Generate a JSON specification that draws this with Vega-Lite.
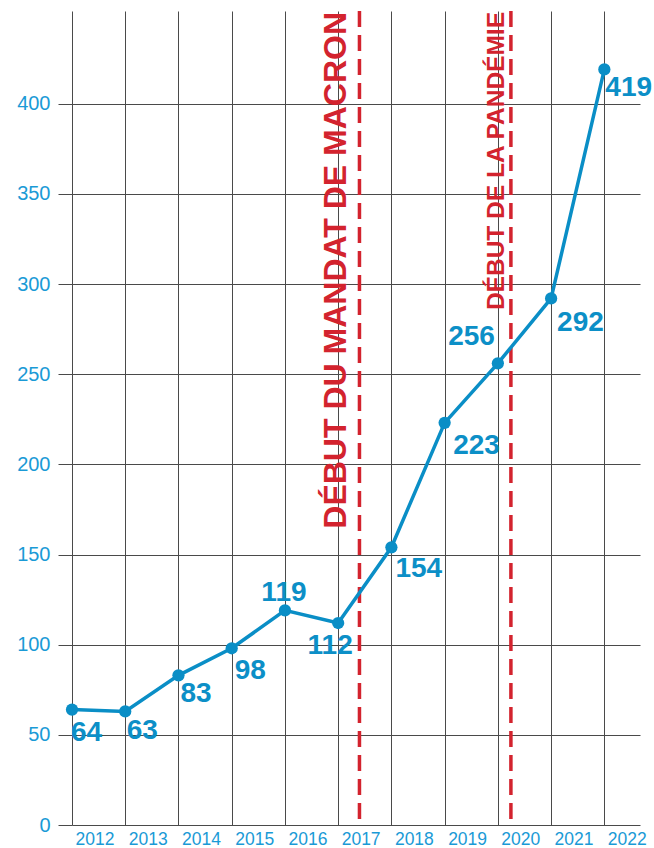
{
  "$schema": "https://vega.github.io/schema/vega-lite/v6.json",
  "width": 568,
  "height": 814,
  "autosize": "none",
  "padding": {"left": 72, "top": 11, "right": 14, "bottom": 23},
  "background": "white",
  "config": {
    "view": {"stroke": null},
    "font": "Liberation Sans",
    "axis": {"gridColor": "#4a4a4a", "gridWidth": 1, "gridOpacity": 1, "tickColor": "#4a4a4a", "tickWidth": 1, "labelColor": "#1a9ad6", "labelFont": "Liberation Sans", "domain": false}
  },
  "datasets": {
    "counts": [
      {"year": 2012, "value": 64},
      {"year": 2013, "value": 63},
      {"year": 2014, "value": 83},
      {"year": 2015, "value": 98},
      {"year": 2016, "value": 119},
      {"year": 2017, "value": 112},
      {"year": 2018, "value": 154},
      {"year": 2019, "value": 223},
      {"year": 2020, "value": 256},
      {"year": 2021, "value": 292},
      {"year": 2022, "value": 419}
    ],
    "events": [
      {"year": 2017.4, "label": "DÉBUT DU MANDAT DE MACRON"},
      {"year": 2020.245, "label": "DÉBUT DE LA PANDÉMIE"}
    ]
  },
  "data": {"name": "counts"},
  "encoding": {
    "x": {
      "field": "year",
      "type": "quantitative",
      "title": null,
      "scale": {"domain": [2012, 2022.67], "nice": false, "zero": false},
      "axis": {
        "values": [2012, 2013, 2014, 2015, 2016, 2017, 2018, 2019, 2020, 2021, 2022],
        "format": "d",
        "grid": true,
        "ticks": false,
        "tickSize": 0,
        "labelAlign": "left",
        "labelOffset": 3,
        "labelPadding": 5,
        "labelFontSize": 17.5,
        "labelFlush": false,
        "labelOverlap": false
      }
    }
  },
  "layer": [
    {
      "mark": {"type": "line", "opacity": 0},
      "encoding": {
        "y": {
          "field": "value",
          "type": "quantitative",
          "title": null,
          "scale": {"domain": [0, 451.4], "nice": false, "zero": true},
          "axis": {
            "values": [0, 50, 100, 150, 200, 250, 300, 350, 400],
            "grid": true,
            "ticks": true,
            "tickSize": 14,
            "labelPadding": 8,
            "labelFontSize": 20,
            "labelBaseline": "middle"
          }
        }
      }
    },
    {
      "data": {"name": "events"},
      "mark": {"type": "rule", "color": "#d3232e", "strokeWidth": 3.5, "strokeDash": [16, 8]},
      "encoding": {}
    },
    {
      "data": {"name": "events"},
      "transform": [{"filter": "datum.year < 2018"}],
      "mark": {"type": "text", "angle": 270, "align": "right", "baseline": "alphabetic", "dx": -1, "dy": -13, "fontSize": 32, "fontWeight": "bold", "color": "#d3232e", "font": "Liberation Sans"},
      "encoding": {"y": {"datum": 451.4, "type": "quantitative"}, "text": {"field": "label"}}
    },
    {
      "data": {"name": "events"},
      "transform": [{"filter": "datum.year > 2018"}],
      "mark": {"type": "text", "angle": 270, "align": "right", "baseline": "alphabetic", "dx": -1, "dy": -7, "fontSize": 24.5, "fontWeight": "bold", "color": "#d3232e", "font": "Liberation Sans"},
      "encoding": {"y": {"datum": 451.4, "type": "quantitative"}, "text": {"field": "label"}}
    },
    {
      "mark": {"type": "line", "color": "#0a8ec6", "strokeWidth": 3.5},
      "encoding": {"y": {"field": "value", "type": "quantitative"}}
    },
    {
      "mark": {"type": "circle", "color": "#0a8ec6", "opacity": 1, "size": 150},
      "encoding": {"y": {"field": "value", "type": "quantitative"}}
    },
    {
      "transform": [{"filter": "datum.year == 2012"}],
      "mark": {"type": "text", "align": "left", "baseline": "alphabetic", "dx": -1, "dy": 31.4, "fontSize": 28, "fontWeight": "bold", "color": "#0c8fc7"},
      "encoding": {"y": {"field": "value", "type": "quantitative"}, "text": {"field": "value"}}
    },
    {
      "transform": [{"filter": "datum.year == 2013"}],
      "mark": {"type": "text", "align": "left", "baseline": "alphabetic", "dx": 1.5, "dy": 27.6, "fontSize": 28, "fontWeight": "bold", "color": "#0c8fc7"},
      "encoding": {"y": {"field": "value", "type": "quantitative"}, "text": {"field": "value"}}
    },
    {
      "transform": [{"filter": "datum.year == 2014"}],
      "mark": {"type": "text", "align": "left", "baseline": "alphabetic", "dx": 2, "dy": 26.4, "fontSize": 28, "fontWeight": "bold", "color": "#0c8fc7"},
      "encoding": {"y": {"field": "value", "type": "quantitative"}, "text": {"field": "value"}}
    },
    {
      "transform": [{"filter": "datum.year == 2015"}],
      "mark": {"type": "text", "align": "left", "baseline": "alphabetic", "dx": 3, "dy": 30.7, "fontSize": 28, "fontWeight": "bold", "color": "#0c8fc7"},
      "encoding": {"y": {"field": "value", "type": "quantitative"}, "text": {"field": "value"}}
    },
    {
      "transform": [{"filter": "datum.year == 2016"}],
      "mark": {"type": "text", "align": "center", "baseline": "alphabetic", "dx": -1, "dy": -9.7, "fontSize": 28, "fontWeight": "bold", "color": "#0c8fc7"},
      "encoding": {"y": {"field": "value", "type": "quantitative"}, "text": {"field": "value"}}
    },
    {
      "transform": [{"filter": "datum.year == 2017"}],
      "mark": {"type": "text", "align": "center", "baseline": "alphabetic", "dx": -8, "dy": 31, "fontSize": 28, "fontWeight": "bold", "color": "#0c8fc7"},
      "encoding": {"y": {"field": "value", "type": "quantitative"}, "text": {"field": "value"}}
    },
    {
      "transform": [{"filter": "datum.year == 2018"}],
      "mark": {"type": "text", "align": "left", "baseline": "alphabetic", "dx": 4, "dy": 29.7, "fontSize": 28, "fontWeight": "bold", "color": "#0c8fc7"},
      "encoding": {"y": {"field": "value", "type": "quantitative"}, "text": {"field": "value"}}
    },
    {
      "transform": [{"filter": "datum.year == 2019"}],
      "mark": {"type": "text", "align": "left", "baseline": "alphabetic", "dx": 8.5, "dy": 31, "fontSize": 28, "fontWeight": "bold", "color": "#0c8fc7"},
      "encoding": {"y": {"field": "value", "type": "quantitative"}, "text": {"field": "value"}}
    },
    {
      "transform": [{"filter": "datum.year == 2020"}],
      "mark": {"type": "text", "align": "right", "baseline": "alphabetic", "dx": -3, "dy": -18.4, "fontSize": 28, "fontWeight": "bold", "color": "#0c8fc7"},
      "encoding": {"y": {"field": "value", "type": "quantitative"}, "text": {"field": "value"}}
    },
    {
      "transform": [{"filter": "datum.year == 2021"}],
      "mark": {"type": "text", "align": "left", "baseline": "alphabetic", "dx": 6, "dy": 32.2, "fontSize": 28, "fontWeight": "bold", "color": "#0c8fc7"},
      "encoding": {"y": {"field": "value", "type": "quantitative"}, "text": {"field": "value"}}
    },
    {
      "transform": [{"filter": "datum.year == 2022"}],
      "mark": {"type": "text", "align": "left", "baseline": "alphabetic", "dx": 1, "dy": 26.5, "fontSize": 28, "fontWeight": "bold", "color": "#0c8fc7"},
      "encoding": {"y": {"field": "value", "type": "quantitative"}, "text": {"field": "value"}}
    }
  ]
}
